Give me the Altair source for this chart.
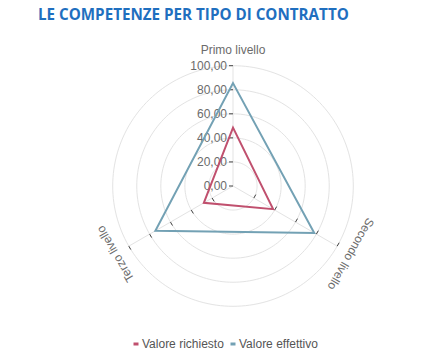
import altair as alt
import pandas as pd

# ---- data ----
categories = ["Primo livello", "Secondo livello", "Terzo livello"]
angles = [0, 120, 240]
series_names = ["Valore richiesto", "Valore effettivo"]
series_colors = ["#c0506e", "#73a1b4"]
richiesto = [48.5, 38.5, 28.0]
effettivo = [85.5, 78.0, 74.5]
tick_values = [0, 20, 40, 60, 80, 100]
tick_labels = ["0,00", "20,00", "40,00", "60,00", "80,00", "100,00"]
grid_values = [20, 40, 60, 80, 100]

# ---- geometry of the view ----
K = 1.203          # pixels per unit
W, H = 407, 314    # view size
CX, CY = 225, 148  # centre inside the view
LABEL_R = 113
TICK_LEN = 3.3

xs = alt.Scale(domain=[-CX / K, (W - CX) / K], nice=False, zero=False)
ys = alt.Scale(domain=[-(H - CY) / K, CY / K], nice=False, zero=False)

rows = []
for s, vals in zip(series_names, [richiesto, effettivo]):
    for i, (c, a, v) in enumerate(zip(categories, angles, vals)):
        rows.append({"series": s, "cat": c, "ang": a, "val": v, "idx": i})
series_df = pd.DataFrame(rows)

axes_df = pd.DataFrame({"cat": categories, "ang": angles, "zero": [0, 0, 0]})
ticks_df = pd.DataFrame([{"ang": a, "t": t} for a in angles for t in tick_values])
ylab_df = pd.DataFrame({"t": tick_values, "label": tick_labels, "zero": 0})

X = lambda f: alt.X(f, type="quantitative", scale=xs, axis=None)
Y = lambda f: alt.Y(f, type="quantitative", scale=ys, axis=None)

grid_list = "[" + ",".join(str(g) for g in grid_values) + "]"
grid = alt.Chart(alt.sequence(0, 362, 2, as_="deg")).transform_calculate(
    rs=grid_list
).transform_flatten(["rs"]).transform_calculate(
    gx="datum.rs*sin(datum.deg*PI/180)", gy="datum.rs*cos(datum.deg*PI/180)"
).mark_line(color="#e3e3e3", strokeWidth=1).encode(
    x=X("gx"), y=Y("gy"), detail="rs:Q", order=alt.Order("deg:Q")
)

spokes = alt.Chart(axes_df).transform_calculate(
    ex="100*sin(datum.ang*PI/180)", ey="100*cos(datum.ang*PI/180)"
).mark_rule(color="#e3e3e3", strokeWidth=1).encode(
    x=X("zero"), y=Y("zero"),
    x2="ex:Q", y2="ey:Q",
)

ticks = alt.Chart(ticks_df).transform_filter(
    "datum.ang == 0 || datum.t > 0"
).transform_calculate(
    tx="datum.t*sin(datum.ang*PI/180)",
    ty="datum.t*cos(datum.ang*PI/180)",
).transform_calculate(
    tx2=f"datum.tx - {TICK_LEN}*cos(datum.ang*PI/180)",
    ty2=f"datum.ty + {TICK_LEN}*sin(datum.ang*PI/180)",
).mark_rule(color="#444444", strokeWidth=1).encode(
    x=X("tx"), y=Y("ty"), x2="tx2:Q", y2="ty2:Q"
)

ylabels = alt.Chart(ylab_df).mark_text(
    align="right", baseline="middle", dx=-6, fontSize=12,
    font="Liberation Sans", color="#6b6b6b"
).encode(
    x=X("zero"), y=Y("t"), text="label:N",
)

axlabels = alt.Chart(axes_df).transform_calculate(
    lx=f"{LABEL_R}*sin(datum.ang*PI/180)", ly=f"{LABEL_R}*cos(datum.ang*PI/180)"
).mark_text(
    align="center", baseline="middle", fontSize=12,
    font="Liberation Sans", color="#6b6b6b"
).encode(
    x=X("lx"), y=Y("ly"), text="cat:N",
    angle=alt.Angle("ang:Q", scale=None),
)

lines = alt.Chart(series_df).transform_calculate(
    px="datum.val*sin(datum.ang*PI/180)", py="datum.val*cos(datum.ang*PI/180)"
).mark_line(interpolate="linear-closed", strokeWidth=2).encode(
    x=X("px"), y=Y("py"),
    order=alt.Order("idx:Q"),
    color=alt.Color(
        "series:N",
        scale=alt.Scale(domain=series_names, range=series_colors),
        legend=alt.Legend(
            orient="none", legendX=122, legendY=300, direction="horizontal",
            title=None, symbolType="stroke", symbolStrokeWidth=3, symbolSize=25,
            labelFontSize=12, labelFont="Liberation Sans", labelColor="#555555",
            columnPadding=0, symbolOffset=0, labelOffset=0, padding=0,
        ),
    ),
)

chart = alt.layer(grid, spokes, ticks, ylabels, axlabels, lines).properties(
    width=W, height=H,
    autosize=alt.AutoSizeParams(type="none"),
    padding={"left": 0, "top": 30, "right": 0, "bottom": 0},
    title=alt.Title(
        "LE COMPETENZE PER TIPO DI CONTRATTO",
        anchor="start", frame="group", dx=30, offset=3, baseline="alphabetic",
        font="Open Sans", fontSize=15.2, fontWeight="bold", color="#1f6fbf",
    ),
).configure_view(stroke=None)

chart.save("out.html", embed_options={"renderer": "svg", "actions": False})
